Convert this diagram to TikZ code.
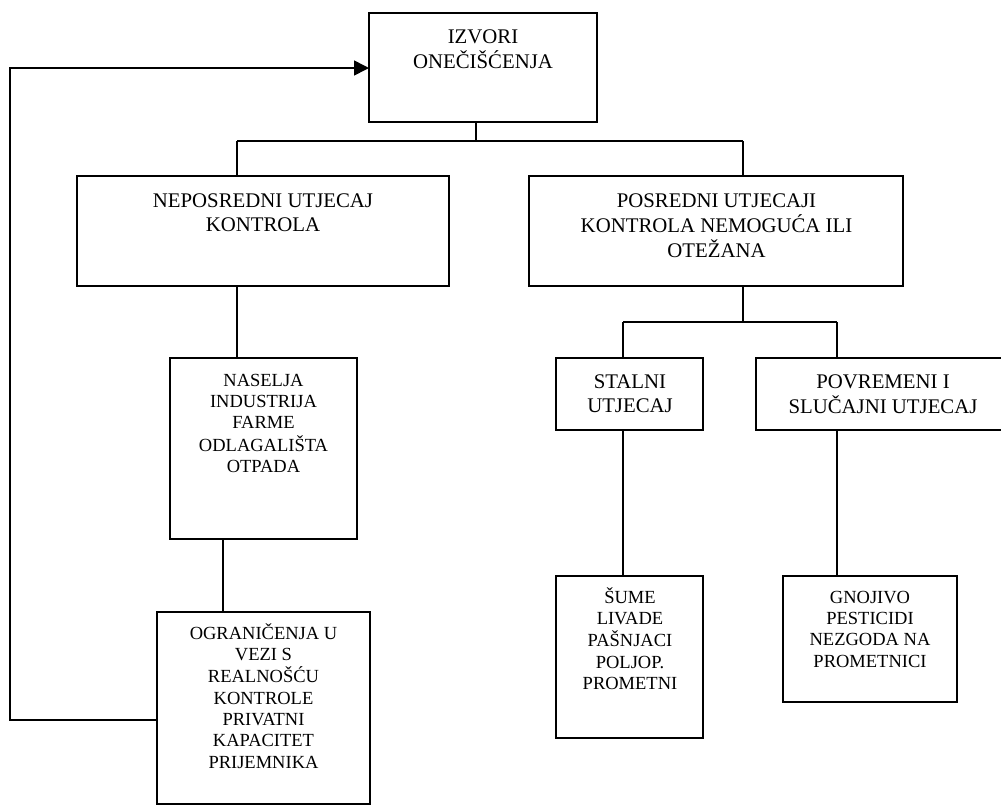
\documentclass[tikz,border=0pt]{standalone}
\usepackage{fontspec}
\setmainfont{Liberation Serif}
\usetikzlibrary{arrows.meta}
\newcommand{\bigtxt}{\fontsize{20.8}{24}\selectfont}
\newcommand{\smalltxt}{\fontsize{18.5}{21.4}\selectfont}
\newcommand{\stack}[1]{\begin{tabular}[t]{@{}c@{}}#1\end{tabular}}
\tikzset{
  box/.style={draw, line width=1.8pt, inner sep=0pt, outer sep=0pt, anchor=north west},
  txt/.style={anchor=base, inner sep=0pt, outer sep=0pt},
  conn/.style={line width=1.6pt},
  arr/.style={conn, -{Triangle[length=15pt,width=15pt]}}
}
\begin{document}
\begin{tikzpicture}[x=1pt, y=-1pt]
\useasboundingbox (0,0) rectangle (1001,807);
\clip (0,0) rectangle (1001,807);

% boxes
\node[box, minimum width=228pt, minimum height=109pt] (izv) at (369,13) {};
\node[box, minimum width=372pt, minimum height=110pt] (nep) at (77,176) {};
\node[box, minimum width=374pt, minimum height=110pt] (pos) at (529,176) {};
\node[box, minimum width=187pt, minimum height=181pt] (nas) at (170,358) {};
\node[box, minimum width=213pt, minimum height=192pt] (ogr) at (157,612) {};
\node[box, minimum width=147pt, minimum height=72pt] (sta) at (556,358) {};
\node[box, minimum width=247pt, minimum height=72pt] (pov) at (756,358) {};
\node[box, minimum width=147pt, minimum height=162pt] (sum) at (556,576) {};
\node[box, minimum width=174pt, minimum height=126pt] (gno) at (783,576) {};

% texts
\node[txt, font=\bigtxt] (tizv) at (483,43) {\stack{IZVORI\\ONEČIŠĆENJA}};
\node[txt, font=\bigtxt] (tnep) at (263,207) {\stack{NEPOSREDNI UTJECAJ\\KONTROLA}};
\node[txt, font=\bigtxt] (tpos) at (716.5,207) {\stack{POSREDNI UTJECAJI\\KONTROLA NEMOGUĆA ILI\\OTEŽANA}};
\node[txt, font=\bigtxt] (tsta) at (630,388) {\stack{STALNI\\UTJECAJ}};
\node[txt, font=\bigtxt] (tpov) at (883,388) {\stack{POVREMENI I\\SLUČAJNI UTJECAJ}};
\node[txt, font=\smalltxt] (tnas) at (263.5,386) {\stack{NASELJA\\INDUSTRIJA\\FARME\\ODLAGALIŠTA\\OTPADA}};
\node[txt, font=\smalltxt] (togr) at (263.5,639) {\stack{OGRANIČENJA U\\VEZI S\\REALNOŠĆU\\KONTROLE\\PRIVATNI\\KAPACITET\\PRIJEMNIKA}};
\node[txt, font=\smalltxt] (tsum) at (630,603) {\stack{ŠUME\\LIVADE\\PAŠNJACI\\POLJOP.\\PROMETNI}};
\node[txt, font=\smalltxt] (tgno) at (870,603) {\stack{GNOJIVO\\PESTICIDI\\NEZGODA NA\\PROMETNICI}};

% junction coordinates
\coordinate (jt) at (476,141);
\coordinate (jl) at (237,141);
\coordinate (jr) at (743,141);
\coordinate (k) at (223,0);
\coordinate (jp) at (743,322);
\coordinate (js) at (623,322);
\coordinate (jv) at (837,322);
\coordinate (fb) at (10,720);
\coordinate (fa) at (10,68);

% connectors
\draw[conn] (izv.south -| jt) -- (jt);
\draw[conn] (jl) -- (jr);
\draw[conn] (jl) -- (nep.north -| jl);
\draw[conn] (jr) -- (pos.north -| jr);
\draw[conn] (nep.south -| jl) -- (nas.north -| jl);
\draw[conn] (nas.south -| k) -- (ogr.north -| k);
\draw[arr] (ogr.west |- fb) -- (fb) -- (fa) -- (izv.west |- fa);
\draw[conn] (pos.south -| jp) -- (jp);
\draw[conn] (js) -- (jv);
\draw[conn] (js) -- (sta.north -| js);
\draw[conn] (jv) -- (pov.north -| jv);
\draw[conn] (sta.south -| js) -- (sum.north -| js);
\draw[conn] (pov.south -| jv) -- (gno.north -| jv);
\end{tikzpicture}
\end{document}
